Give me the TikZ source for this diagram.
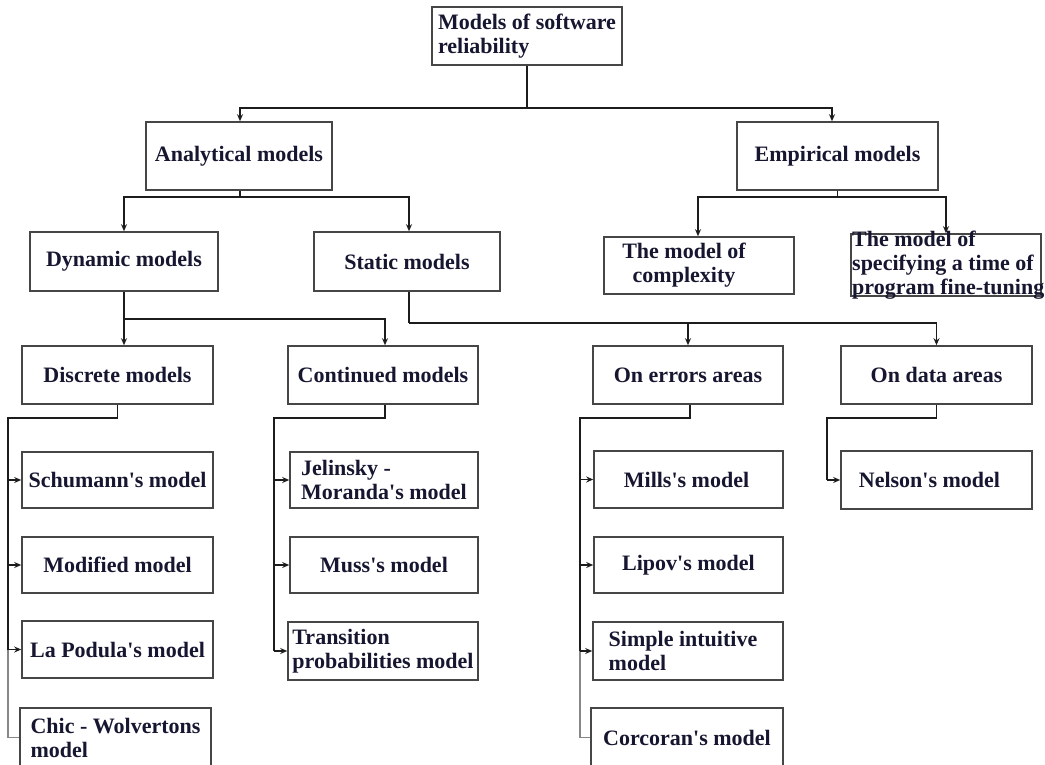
\documentclass[tikz,border=0pt]{standalone}
\usepackage{fontspec}
\setmainfont{Liberation Serif}[Ligatures=TeXOff]
\usetikzlibrary{arrows.meta}
\definecolor{txt}{RGB}{22,22,48}
\definecolor{edgec}{RGB}{70,70,70}
\definecolor{connc}{RGB}{28,28,28}
\definecolor{lconn}{RGB}{135,135,135}
\begin{document}
\begin{tikzpicture}[x=1pt,y=-1pt,
  box/.style={draw=edgec, line width=1.6pt, fill=white, inner sep=0pt,
    font=\bfseries\fontsize{22}{24}\selectfont, text=txt},
  sz/.style 2 args={minimum width=#1pt, minimum height=#2pt},
  lbl/.style={inner sep=0pt, font=\bfseries\fontsize{22}{24}\selectfont, text=txt},
  conn/.style={draw=connc, line width=1.6pt},
  lconnst/.style={draw=lconn, line width=1.2pt},
  arr/.style={conn, -{Stealth[length=7pt,width=6pt]}},
]
\useasboundingbox (0,0) rectangle (1045,765);
\fill[white] (0,0) rectangle (1045,765);

% level 0
\node[box, sz={190}{58}, align=left] (root) at (527,36) {Models of software\\reliability};
% level 1
\node[box, sz={186}{68}] (analytical) at (239,156) {Analytical models};
\node[box, sz={201}{68}] (empirical) at (837.5,156) {Empirical models};
% level 2
\node[box, sz={188}{59}] (dynamic) at (124,261.5) {Dynamic models};
\node[box, sz={186}{59}] (static) at (407,261.5) {Static models};
\node[box, sz={190}{57}] (complexity) at (699,265.5) {\begin{tabular}{@{}c@{}}The model of\\complexity\end{tabular}\hspace*{30pt}};
\node[box, sz={190}{62}] (spec) at (946,265) {};
\node[lbl, anchor=west, align=left] (spect) at (852,265.5) {The model of\\specifying a time of\\program fine-tuning};
% level 3
\node[box, sz={191}{58}] (discrete) at (117.5,375) {Discrete models};
\node[box, sz={190}{58}] (continued) at (383,375) {Continued models};
\node[box, sz={190}{58}] (errors) at (688,375) {On errors areas};
\node[box, sz={191}{58}] (data) at (936.5,375) {On data areas};
% discrete children
\node[box, sz={191}{56}] (schumann) at (117.5,480) {Schumann's model};
\node[box, sz={191}{56}] (modified) at (117.5,565) {Modified model};
\node[box, sz={191}{57}] (lapodula) at (117.5,649.5) {La Podula's model};
\node[box, sz={191}{59}, align=left] (chic) at (115.5,737.5) {Chic - Wolvertons\\model};
% continued children
\node[box, sz={188}{56}, align=left] (jelinsky) at (384,480) {Jelinsky -\\Moranda's model};
\node[box, sz={188}{56}] (muss) at (384,565) {Muss's model};
\node[box, sz={190}{58}, align=left] (transition) at (383,651) {Transition\\probabilities model};
% errors children
\node[box, sz={189}{57}] (mills) at (688.5,479.5) {\hspace*{-4pt}Mills's model};
\node[box, sz={189}{56}] (lipov) at (688.5,565) {Lipov's model};
\node[box, sz={190}{58}, align=left] (simple) at (688,651) {Simple intuitive\hspace*{10pt}\\model};
\node[box, sz={192}{59}] (corcoran) at (687,737.5) {Corcoran's model};
% data children
\node[box, sz={191}{58}] (nelson) at (936.5,480) {Nelson's model\hspace*{14pt}};

% connectors level 0 -> 1
\draw[conn] (root.south) -- (527,108) coordinate (j1);
\draw[arr] (j1) -| ([xshift=1pt]analytical.north);
\draw[arr] (j1) -| ([xshift=-5.5pt]empirical.north);
% analytical -> dynamic/static
\draw[conn] ([xshift=1pt]analytical.south) -- ++(0,6) coordinate (j2);
\draw[arr] (j2) -| (dynamic.north);
\draw[arr] (j2) -| ([xshift=2pt]static.north);
% empirical -> complexity/spec
\draw[conn] (empirical.south) -- ++(0,6) coordinate (j3);
\draw[arr] (j3) -| ([xshift=-1pt]complexity.north);
\draw[arr] (j3) -| (spec.north);
% dynamic -> discrete/continued
\draw[conn] (dynamic.south) -- ++(0,27) coordinate (j4);
\draw[arr] (j4) -- (dynamic.south |- discrete.north);
\draw[arr] (j4) -| ([xshift=2pt]continued.north);
% static -> errors/data
\draw[conn] ([xshift=2pt]static.south) -- ++(0,31) coordinate (j5);
\draw[arr] (j5) -| (errors.north);
\draw[arr] (j5) -| (data.north);

% discrete -> children
\coordinate (d1) at (8,418);
\draw[conn] (discrete.south) |- (d1) -- (d1 |- lapodula.west);
\draw[lconnst] (d1 |- lapodula.west) -- (d1 |- chic.west) -- (chic.west);
\draw[arr] (d1 |- schumann.west) -- (schumann.west);
\draw[arr] (d1 |- modified.west) -- (modified.west);
\draw[arr] (d1 |- lapodula.west) -- (lapodula.west);
% continued -> children
\coordinate (c1) at (274,418);
\draw[conn] ([xshift=2pt]continued.south) |- (c1) -- (c1 |- transition.west);
\draw[arr] (c1 |- jelinsky.west) -- (jelinsky.west);
\draw[arr] (c1 |- muss.west) -- (muss.west);
\draw[arr] (c1 |- transition.west) -- (transition.west);
% errors -> children
\coordinate (e1) at (580,418);
\draw[conn] ([xshift=2pt]errors.south) |- (e1) -- (e1 |- simple.west);
\draw[lconnst] (e1 |- simple.west) -- (e1 |- corcoran.west) -- (corcoran.west);
\draw[arr] (e1 |- mills.west) -- (mills.west);
\draw[arr] (e1 |- lipov.west) -- (lipov.west);
\draw[arr] (e1 |- simple.west) -- (simple.west);
% data -> nelson
\coordinate (n1) at (827,418);
\draw[conn] (data.south) |- (n1) -- (n1 |- nelson.west);
\draw[arr] (n1 |- nelson.west) -- (nelson.west);
\end{tikzpicture}
\end{document}
